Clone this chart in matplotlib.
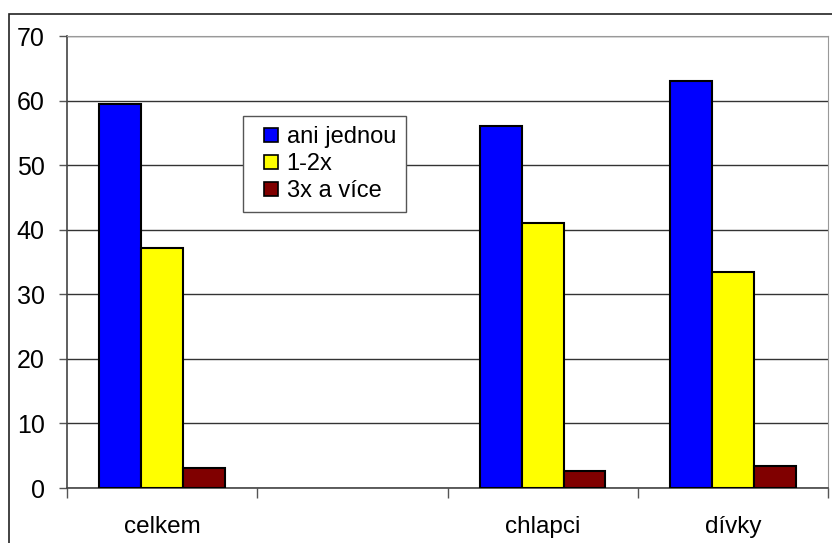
import matplotlib
matplotlib.use("Agg")
import matplotlib.pyplot as plt
import numpy as np
from matplotlib.patches import Rectangle
from matplotlib.legend_handler import HandlerPatch

plt.rcParams['font.family'] = ['Liberation Sans', 'DejaVu Sans']

categories = ["celkem", "", "chlapci", "dívky"]
series_names = ["ani jednou", "1-2x", "3x a více"]
ani_jednou = [59.5, None, 56.0, 63.1]
jednou_dvakrat = [37.1, None, 41.1, 33.4]
trikrat_vice = [3.05, None, 2.7, 3.4]
colors = ["#0000FF", "#FFFF00", "#800000"]
yticks = [0, 10, 20, 30, 40, 50, 60, 70]

fig = plt.figure(figsize=(8.32, 5.43), dpi=100)
fig.patch.set_facecolor("white")
# outer chart frame
fig.patches.append(Rectangle((9/832, -0.01), 1 - 9/832 + 0.01, 1 - 14/543 + 0.01,
                             transform=fig.transFigure, fill=False,
                             edgecolor="#222222", linewidth=1.2))

ax = fig.add_axes([67/832, 1 - 488/543, (828 - 67)/832, (488 - 36)/543])

x = np.arange(len(categories))
w = 0.22
for i, (vals, name, c) in enumerate(zip([ani_jednou, jednou_dvakrat, trikrat_vice], series_names, colors)):
    xs = [xi + (i - 1) * w for xi, v in zip(x, vals) if v is not None]
    vs = [v for v in vals if v is not None]
    ax.bar(xs, vs, width=w, color=c, edgecolor="black", linewidth=1.5, label=name, zorder=3)

ax.set_xlim(-0.5, len(categories) - 0.5)
ax.set_ylim(0, 70)
ax.set_yticks(yticks)
ax.set_yticklabels([str(t) for t in yticks], fontsize=18)
ax.yaxis.grid(True, color="#333333", linewidth=1.0, zorder=0)
ax.set_xticks(x)
ax.set_xticklabels(categories, fontsize=17.5)
ax.set_xticks(np.arange(len(categories) + 1) - 0.5, minor=True)
ax.tick_params(axis='x', which='major', length=0, pad=20)
ax.tick_params(axis='x', which='minor', length=7, width=1, color="#555555", direction='out')
ax.tick_params(axis='y', length=6, width=1, color="#555555", pad=10, direction='out')

for s in ['left', 'bottom']:
    ax.spines[s].set_color("#444444")
    ax.spines[s].set_linewidth(1.2)
ax.spines['top'].set_color("#999999")
ax.spines['right'].set_color("#999999")
ax.set_axisbelow(True)


class SquareHandler(HandlerPatch):
    def create_artists(self, legend, orig_handle, xdescent, ydescent, width, height, fontsize, trans):
        side = 14 * 72 / 100  # 14 px square
        p = Rectangle((width - side - xdescent, -ydescent + (height - side) / 2), side, side,
                      facecolor=orig_handle.get_facecolor(), edgecolor="black",
                      linewidth=1.2, transform=trans)
        return [p]


proxies = [Rectangle((0, 0), 1, 1, facecolor=c, edgecolor="black") for c in colors]
leg = ax.legend(proxies, series_names, loc='upper left', bbox_to_anchor=(243/832, 1 - 116/543),
                bbox_transform=fig.transFigure, borderaxespad=0,
                fontsize=17, frameon=True, fancybox=False, framealpha=1,
                handlelength=1.05, handleheight=0.55, handletextpad=0.38,
                labelspacing=0.22, borderpad=0.42,
                handler_map={Rectangle: SquareHandler()})
leg.get_frame().set_edgecolor("#555555")
leg.get_frame().set_linewidth(1.0)

fig.savefig("out.png", dpi=100, facecolor="white")
